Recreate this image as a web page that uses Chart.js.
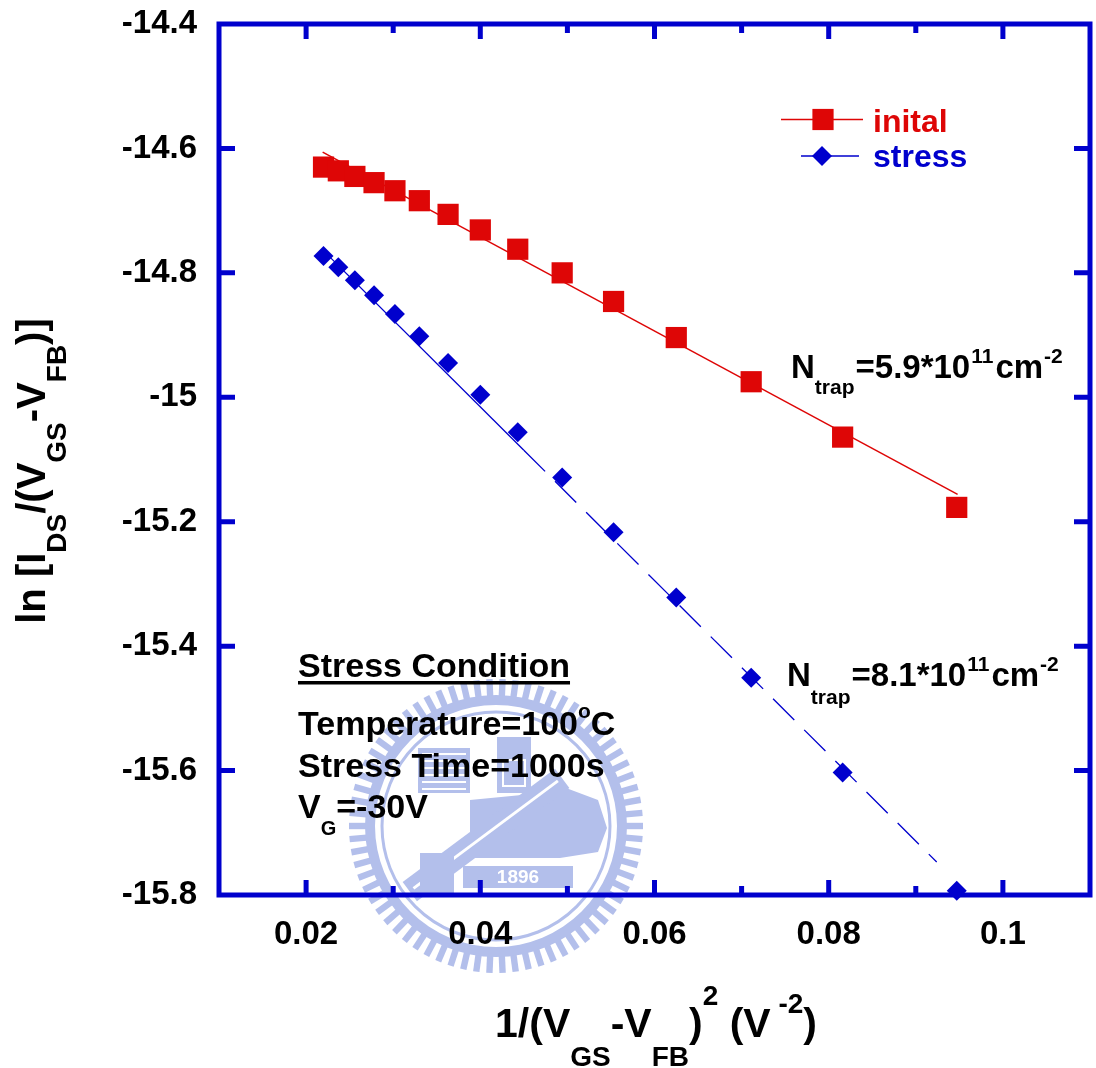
<!DOCTYPE html>
<html lang="en">
<head>
<meta charset="UTF-8">
<title>ln[IDS/(VGS-VFB)] vs 1/(VGS-VFB)^2</title>
<script src="https://cdn.jsdelivr.net/npm/chart.js"></script>
<style>
    html, body { margin: 0; padding: 0; background: #fff; }
    #wrap { width: 1096px; height: 1068px; }
</style>
</head>
<body>
<div id="wrap"><canvas id="trapChart" width="1096" height="1068"></canvas></div>
<script>
// measured points, x = 1/(VGS-VFB)^2
const initX   = [0.0220, 0.0237, 0.0256, 0.0278, 0.0302, 0.0330, 0.0363, 0.0400, 0.0443, 0.0494, 0.0553, 0.0625, 0.0711, 0.0816, 0.0947];
const initY   = [-14.630, -14.636, -14.645, -14.655, -14.668, -14.684, -14.706, -14.731, -14.762, -14.800, -14.846, -14.904, -14.975, -15.064, -15.177];
const stressX = [0.0220, 0.0237, 0.0256, 0.0278, 0.0302, 0.0330, 0.0363, 0.0400, 0.0443, 0.0494, 0.0553, 0.0625, 0.0711, 0.0816, 0.0947];
const stressY = [-14.773, -14.791, -14.812, -14.836, -14.866, -14.902, -14.945, -14.996, -15.056, -15.129, -15.217, -15.322, -15.451, -15.603, -15.793];

// linear fits
const initFitX   = [0.0219, 0.0948];
const initFitY   = [-14.606, -15.156];
const stressFitX = [0.0219, 0.0450, 0.0924];
const stressFitY = [-14.763, -15.085, -15.747];

// axis ticks
const xMajor = [0.02, 0.04, 0.06, 0.08, 0.10];
const xMinor = [0.03, 0.05, 0.07, 0.09];
const yMajor = [-14.6, -14.8, -15.0, -15.2, -15.4, -15.6];

const RED = '#de0606';
const BLUE = '#0000cd';
const EMBLEM = '#b3bfeb';
const FONT = 'Arial, "Liberation Sans", sans-serif';

function pts(xs, ys) {
    return xs.map((x, i) => ({ x: x, y: ys[i] }));
}

// draws a run of text pieces: [text, size, baselineShift, extraGapAfter]
function richText(ctx, x, y, parts, align) {
    let w = 0;
    parts.forEach(p => {
        ctx.font = 'bold ' + p[1] + 'px ' + FONT;
        w += ctx.measureText(p[0]).width + (p[3] || 0);
    });
    let cx = align === 'center' ? x - w / 2 : x;
    parts.forEach(p => {
        ctx.font = 'bold ' + p[1] + 'px ' + FONT;
        ctx.fillText(p[0], cx, y + (p[2] || 0));
        cx += ctx.measureText(p[0]).width + (p[3] || 0);
    });
    return w;
}

// faint university emblem behind the plot
function drawEmblem(ctx, cx, cy) {
    ctx.save();
    ctx.fillStyle = EMBLEM;
    ctx.strokeStyle = EMBLEM;
    const n = 70;
    for (let i = 0; i < n; i++) {
        ctx.save();
        ctx.translate(cx, cy);
        ctx.rotate(i / n * Math.PI * 2);
        ctx.fillRect(127, -3.2, 20, 6.4);
        ctx.restore();
    }
    ctx.beginPath();
    ctx.arc(cx, cy, 131, 0, Math.PI * 2);
    ctx.arc(cx, cy, 121, 0, Math.PI * 2, true);
    ctx.fill();
    ctx.lineWidth = 3;
    ctx.beginPath();
    ctx.arc(cx, cy, 114, 0, Math.PI * 2);
    ctx.stroke();

    // building with windows
    ctx.fillRect(418, 748, 52, 45);
    ctx.fillStyle = '#fff';
    for (let y = 753; y < 790; y += 7) ctx.fillRect(422, y, 44, 2);
    ctx.fillStyle = EMBLEM;
    // tower
    ctx.fillRect(497, 737, 34, 56);
    ctx.strokeStyle = '#fff';
    ctx.lineWidth = 2;
    ctx.strokeRect(503, 760, 22, 26);
    // island
    ctx.beginPath();
    ctx.moveTo(470, 800);
    ctx.lineTo(532, 794);
    ctx.lineTo(566, 788);
    ctx.lineTo(598, 800);
    ctx.lineTo(607, 828);
    ctx.lineTo(598, 852);
    ctx.lineTo(560, 858);
    ctx.lineTo(470, 858);
    ctx.closePath();
    ctx.fill();
    // diagonal bar
    ctx.save();
    ctx.translate(486, 835);
    ctx.rotate(-0.64);
    ctx.fillRect(-95, -12, 190, 24);
    ctx.fillStyle = '#fff';
    ctx.fillRect(-90, -2, 180, 3);
    ctx.restore();
    // lower blocks
    ctx.fillStyle = EMBLEM;
    ctx.fillRect(420, 853, 34, 40);
    // year plate
    ctx.fillRect(463, 866, 110, 22);
    ctx.fillStyle = '#fff';
    ctx.font = 'bold 19px ' + FONT;
    ctx.textAlign = 'center';
    ctx.textBaseline = 'middle';
    ctx.fillText('1896', 518, 878);
    ctx.restore();
}

const decorations = {
    id: 'decorations',
    beforeDraw(chart) {
        const ctx = chart.ctx;
        ctx.save();
        ctx.fillStyle = '#fff';
        ctx.fillRect(0, 0, chart.width, chart.height);
        ctx.restore();
        drawEmblem(ctx, 496, 826);
    },
    beforeDatasetsDraw(chart) {
        const ctx = chart.ctx;
        const a = chart.chartArea;
        const xs = chart.scales.x, ys = chart.scales.y;
        ctx.save();
        ctx.strokeStyle = BLUE;
        ctx.lineWidth = 5;
        ctx.strokeRect(a.left, a.top, a.right - a.left, a.bottom - a.top);
        ctx.beginPath();
        xMajor.concat(xMinor).forEach(v => {
            const len = xMajor.includes(v) ? 15 : 9;
            const px = xs.getPixelForValue(v);
            ctx.moveTo(px, a.bottom); ctx.lineTo(px, a.bottom - len);
            ctx.moveTo(px, a.top); ctx.lineTo(px, a.top + len);
        });
        yMajor.forEach(v => {
            const py = ys.getPixelForValue(v);
            ctx.moveTo(a.left, py); ctx.lineTo(a.left + 16, py);
            ctx.moveTo(a.right, py); ctx.lineTo(a.right - 16, py);
        });
        ctx.stroke();
        ctx.restore();
    },
    afterDatasetsDraw(chart) {
        const ctx = chart.ctx;
        ctx.save();
        ctx.textBaseline = 'alphabetic';
        ctx.textAlign = 'left';

        // legend
        ctx.lineWidth = 1.5;
        ctx.strokeStyle = RED;
        ctx.beginPath(); ctx.moveTo(781, 119.5); ctx.lineTo(863, 119.5); ctx.stroke();
        ctx.fillStyle = RED;
        ctx.fillRect(823 - 10.6, 119.5 - 10.6, 21.2, 21.2);
        ctx.strokeStyle = BLUE;
        ctx.beginPath(); ctx.moveTo(801, 156); ctx.lineTo(859, 156); ctx.stroke();
        ctx.fillStyle = BLUE;
        ctx.beginPath();
        ctx.moveTo(812, 156); ctx.lineTo(822, 146); ctx.lineTo(832, 156); ctx.lineTo(822, 166);
        ctx.closePath(); ctx.fill();
        ctx.font = 'bold 32px ' + FONT;
        ctx.fillStyle = RED;
        ctx.fillText('inital', 873, 132);
        ctx.fillStyle = BLUE;
        ctx.fillText('stress', 873, 167);

        // trap densities
        ctx.fillStyle = '#000';
        richText(ctx, 791, 378, [['N', 33], ['trap', 21, 16, 1], ['=5.9*10', 33, 0, 1], ['11', 21, -15, 2], ['cm', 33, 0, 1], ['-2', 21, -15]]);
        richText(ctx, 787, 686, [['N', 33], ['trap', 21, 18, 1], ['=8.1*10', 33, 0, 1], ['11', 21, -15, 2], ['cm', 33, 0, 1], ['-2', 21, -15]]);

        // stress condition block
        const w = richText(ctx, 298, 677, [['Stress Condition', 34]]);
        ctx.fillRect(298, 681, w, 3.5);
        richText(ctx, 298, 735, [['Temperature=100', 34], ['o', 21, -17], ['C', 34]]);
        richText(ctx, 298, 777, [['Stress Time=1000s', 34]]);
        richText(ctx, 298, 818, [['V', 34], ['G', 20, 17], ['=-30V', 34]]);

        // axis titles
        richText(ctx, 656, 1037, [['1/(V', 41], ['GS', 28, 29], ['-V', 41], ['FB', 28, 29], [')', 41],
            ['2', 28, -32], [' (V', 41], [' -2', 28, -24], [')', 41]], 'center');
        ctx.translate(45, 471);
        ctx.rotate(-Math.PI / 2);
        richText(ctx, 0, 0, [['ln [I', 40], ['DS', 28, 21], ['/(V', 40], ['GS', 28, 21], ['-V', 40],
            ['FB', 28, 21], [')]', 40]], 'center');
        ctx.restore();
    }
};

// keep the plot box fixed: no extra room reserved for edge labels
function noEdgePadding(s) {
    s.paddingLeft = 0;
    s.paddingRight = 0;
    s.paddingTop = 0;
    s.paddingBottom = 0;
}

Chart.defaults.font.family = FONT;

new Chart(document.getElementById('trapChart'), {
    type: 'scatter',
    data: {
        datasets: [
            {
                label: 'inital',
                data: pts(initX, initY),
                pointStyle: 'rect',
                pointRadius: 15,
                backgroundColor: RED,
                borderColor: RED,
                borderWidth: 0,
                clip: false,
                order: 0
            },
            {
                label: 'stress',
                data: pts(stressX, stressY),
                pointStyle: 'rectRot',
                pointRadius: 10,
                backgroundColor: BLUE,
                borderColor: BLUE,
                borderWidth: 0,
                clip: false,
                order: 0
            },
            {
                label: 'inital fit',
                data: pts(initFitX, initFitY),
                showLine: true,
                pointRadius: 0,
                borderColor: RED,
                borderWidth: 1.5,
                order: 1
            },
            {
                label: 'stress fit',
                data: pts(stressFitX, stressFitY),
                showLine: true,
                pointRadius: 0,
                borderColor: BLUE,
                borderWidth: 1.3,
                segment: {
                    borderDash: c => c.p0DataIndex === 1 ? [30, 14] : undefined
                },
                order: 1
            }
        ]
    },
    options: {
        responsive: false,
        devicePixelRatio: 1,
        animation: false,
        events: [],
        layout: { autoPadding: false, padding: { top: 24, right: 6, bottom: 0, left: 0 } },
        plugins: { legend: { display: false }, tooltip: { enabled: false } },
        scales: {
            x: {
                type: 'linear',
                min: 0.01,
                max: 0.11,
                afterFit: s => { s.height = 173; noEdgePadding(s); },
                grid: { display: false, drawTicks: false },
                border: { display: false },
                ticks: {
                    stepSize: 0.01,
                    autoSkip: false,
                    maxRotation: 0,
                    padding: 20,
                    color: '#000',
                    font: { size: 33, weight: 'bold' },
                    callback: v => {
                        const k = Math.round(v * 100);
                        return (k % 2 === 0 && k >= 2 && k <= 10) ? String(k / 100) : '';
                    }
                }
            },
            y: {
                type: 'linear',
                min: -15.8,
                max: -14.4,
                afterFit: s => { s.width = 219; noEdgePadding(s); },
                grid: { display: false, drawTicks: false },
                border: { display: false },
                ticks: {
                    stepSize: 0.2,
                    padding: 22,
                    color: '#000',
                    font: { size: 33, weight: 'bold' },
                    callback: v => String(Math.round(v * 10) / 10)
                }
            }
        }
    },
    plugins: [decorations]
});
</script>
</body>
</html>
